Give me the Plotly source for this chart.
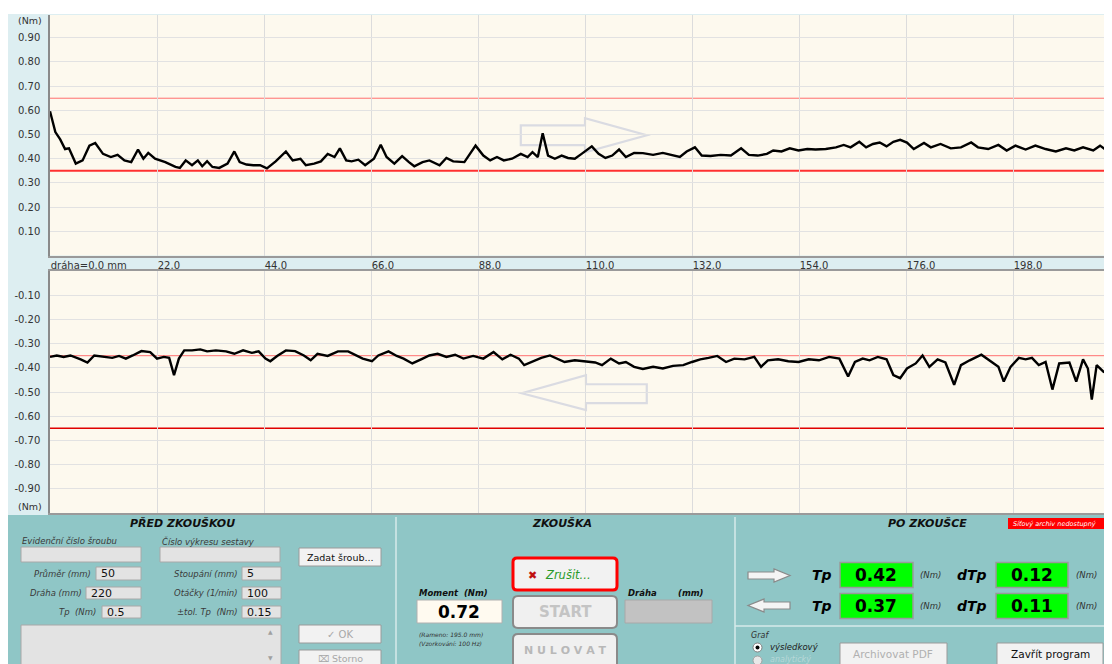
import plotly.graph_objects as go

# page has an 8 px body margin, so the figure is drawn 8 px right/down;
# the plots run past the right edge of the window like in the screenshot
OFF = 8
W, H = 1112, 656

# test parameters (shown in the panel, also give the limit lines)
prumer = 50
draha = 220
tp_nom = 0.5
stoupani = 5
otacky = 100
tol_tp = 0.15
moment = 0.72
tp_fwd, dtp_fwd = 0.42, 0.12
tp_back, dtp_back = 0.37, 0.11

# forward run (mm, Nm)
fwd_x = [
    0.0, 1.1, 2.1, 3.1, 3.9, 5.3, 6.7, 8.1, 9.3, 10.9,
    12.5, 13.9, 15.3, 16.7, 18.1, 19.2, 20.2, 21.6, 23.7, 25.8,
    26.7, 27.9, 29.2, 30.4, 31.3, 32.3, 33.4, 34.8, 36.5, 37.9,
    39.0, 40.4, 41.8, 43.2, 44.6, 46.4, 48.5, 49.9, 51.5, 52.6,
    54.3, 55.7, 57.1, 58.5, 59.6, 60.9, 62.0, 63.4, 64.8, 66.6,
    68.0, 69.2, 70.8, 72.4, 73.8, 74.9, 76.6, 78.0, 80.1, 81.5,
    82.9, 85.2, 87.5, 89.1, 90.5, 91.9, 93.3, 95.0, 96.8, 98.2,
    99.2, 100.3, 101.3, 102.4, 103.8, 105.2, 106.5, 107.9, 109.3, 111.4,
    112.8, 114.2, 115.6, 117.0, 118.4, 120.1, 121.9, 124.0, 126.0, 128.1,
    129.5, 130.9, 132.6, 134.0, 135.8, 137.9, 140.0, 142.1, 143.7, 145.5,
    147.4, 148.7, 150.4, 152.1, 153.9, 155.7, 157.4, 159.5, 161.6, 163.2,
    164.6, 166.4, 167.8, 169.2, 170.6, 172.0, 173.4, 174.8, 176.2, 177.6,
    179.7, 181.1, 183.1, 185.2, 187.3, 189.4, 190.8, 192.9, 195.0, 196.7,
    198.5, 200.6, 202.6, 204.7, 206.8, 208.9, 210.6, 212.4, 214.5, 215.9,
    217.0, 218.4,
]
fwd_y = [
    0.596, 0.51, 0.48, 0.44, 0.443, 0.38, 0.393, 0.454, 0.465, 0.42,
    0.407, 0.416, 0.393, 0.386, 0.438, 0.40, 0.424, 0.40, 0.386, 0.366,
    0.362, 0.393, 0.373, 0.393, 0.369, 0.39, 0.366, 0.362, 0.38, 0.43,
    0.386, 0.376, 0.373, 0.373, 0.36, 0.389, 0.43, 0.393, 0.40, 0.373,
    0.38, 0.389, 0.42, 0.407, 0.443, 0.393, 0.389, 0.396, 0.373, 0.40,
    0.458, 0.407, 0.38, 0.411, 0.386, 0.369, 0.386, 0.393, 0.373, 0.403,
    0.389, 0.386, 0.454, 0.413, 0.393, 0.407, 0.393, 0.40, 0.42, 0.407,
    0.427, 0.407, 0.505, 0.413, 0.40, 0.413, 0.403, 0.40, 0.42, 0.451,
    0.42, 0.403, 0.413, 0.438, 0.407, 0.424, 0.423, 0.416, 0.424, 0.413,
    0.407, 0.43, 0.447, 0.413, 0.411, 0.416, 0.413, 0.443, 0.416, 0.413,
    0.42, 0.434, 0.43, 0.443, 0.434, 0.44, 0.438, 0.44, 0.447, 0.457,
    0.447, 0.47, 0.447, 0.461, 0.467, 0.451, 0.47, 0.478, 0.467, 0.44,
    0.465, 0.447, 0.461, 0.443, 0.447, 0.467, 0.447, 0.44, 0.457, 0.434,
    0.454, 0.438, 0.454, 0.44, 0.43, 0.443, 0.434, 0.447, 0.434, 0.454,
    0.438, 0.434,
]

# backward run (mm, Nm)
back_x = [
    0.0, 1.4, 2.8, 4.2, 6.3, 7.7, 9.1, 11.1, 12.8, 14.2,
    15.6, 17.0, 18.8, 20.6, 22.0, 23.4, 24.5, 25.5, 26.5, 27.6,
    29.2, 30.9, 32.3, 34.1, 36.2, 37.9, 39.7, 41.5, 42.9, 44.3,
    45.3, 46.7, 48.5, 50.4, 52.2, 53.6, 55.0, 57.1, 59.2, 61.3,
    63.0, 64.3, 66.2, 67.5, 69.6, 71.3, 72.7, 74.5, 76.3, 78.0,
    79.7, 81.5, 83.3, 85.0, 87.0, 89.1, 91.2, 93.0, 94.7, 96.4,
    97.5, 99.2, 101.0, 102.8, 104.5, 105.8, 107.9, 110.0, 112.1, 113.5,
    115.3, 117.0, 118.4, 120.1, 121.9, 124.0, 126.0, 128.1, 130.2, 132.0,
    133.7, 135.4, 137.2, 139.0, 140.7, 142.8, 144.8, 146.2, 147.6, 149.7,
    151.8, 153.9, 156.0, 158.1, 160.2, 162.3, 164.1, 165.5, 167.1, 168.5,
    170.2, 172.0, 173.4, 174.8, 176.2, 178.0, 179.4, 180.8, 182.5, 184.1,
    185.9, 187.3, 189.1, 191.5, 193.6, 195.0, 196.1, 197.5, 199.2, 200.6,
    201.9, 203.3, 204.7, 206.1, 207.5, 209.6, 211.0, 212.4, 213.4, 214.2,
    215.2, 216.6, 218.4,
]
back_y = [
    -0.355, -0.349, -0.355, -0.349, -0.365, -0.378, -0.349, -0.355, -0.359, -0.351,
    -0.362, -0.349, -0.331, -0.335, -0.362, -0.355, -0.359, -0.43, -0.362, -0.328,
    -0.328, -0.324, -0.332, -0.328, -0.332, -0.342, -0.328, -0.338, -0.332, -0.362,
    -0.373, -0.351, -0.328, -0.331, -0.349, -0.369, -0.342, -0.351, -0.332, -0.332,
    -0.351, -0.362, -0.373, -0.349, -0.332, -0.351, -0.362, -0.382, -0.365, -0.349,
    -0.342, -0.355, -0.346, -0.362, -0.351, -0.362, -0.335, -0.365, -0.346, -0.362,
    -0.389, -0.376, -0.359, -0.349, -0.365, -0.376, -0.369, -0.373, -0.378, -0.389,
    -0.362, -0.382, -0.376, -0.396, -0.405, -0.396, -0.403, -0.392, -0.389, -0.376,
    -0.365, -0.359, -0.351, -0.376, -0.362, -0.365, -0.355, -0.396, -0.369, -0.365,
    -0.373, -0.376, -0.365, -0.369, -0.355, -0.362, -0.436, -0.376, -0.362, -0.369,
    -0.355, -0.365, -0.43, -0.443, -0.403, -0.382, -0.349, -0.396, -0.365, -0.378,
    -0.47, -0.389, -0.369, -0.346, -0.376, -0.396, -0.457, -0.396, -0.359, -0.365,
    -0.359, -0.389, -0.376, -0.49, -0.382, -0.378, -0.457, -0.365, -0.403, -0.531,
    -0.389, -0.416, -0.43,
]

x_ticks = [0, 22, 44, 66, 88, 110, 132, 154, 176, 198]
x_ticktext = ["dráha=0.0 mm"] + [f"{v:.1f}" for v in x_ticks[1:]]
y_top_ticks = [0.1, 0.2, 0.3, 0.4, 0.5, 0.6, 0.7, 0.8, 0.9]
y_bot_ticks = [-v for v in y_top_ticks]

TEAL = "#8fc6c6"
BAND = "#ddeef1"
CREAM = "#fdf9ee"
FONT = "DejaVu Sans"


# positions below are in screenshot pixels; helpers convert to paper units
def px(x):
    return (x - OFF) / W


def py(y):
    return 1 - (y - OFF) / H


def P(x, y):
    return f"{px(x):.5f},{py(y):.5f}"


shapes = []
annots = []


def rect(x0, y0, x1, y1, fill, line="rgba(0,0,0,0)", lw=1, layer="above"):
    shapes.append(dict(type="rect", xref="paper", yref="paper",
                       x0=px(x0), x1=px(x1), y0=py(y1), y1=py(y0),
                       fillcolor=fill, line=dict(color=line, width=lw), layer=layer))


def rrect(x0, y0, x1, y1, r, fill, line, lw=1):
    path = (f"M{P(x0 + r, y0)} L{P(x1 - r, y0)} Q{P(x1, y0)} {P(x1, y0 + r)} "
            f"L{P(x1, y1 - r)} Q{P(x1, y1)} {P(x1 - r, y1)} L{P(x0 + r, y1)} "
            f"Q{P(x0, y1)} {P(x0, y1 - r)} L{P(x0, y0 + r)} Q{P(x0, y0)} {P(x0 + r, y0)} Z")
    shapes.append(dict(type="path", xref="paper", yref="paper", path=path,
                       fillcolor=fill, line=dict(color=line, width=lw)))


def hline(x0, x1, y, color, lw=1):
    shapes.append(dict(type="line", xref="paper", yref="paper",
                       x0=px(x0), x1=px(x1), y0=py(y), y1=py(y),
                       line=dict(color=color, width=lw)))


def vline(x, y0, y1, color, lw=1):
    shapes.append(dict(type="line", xref="paper", yref="paper",
                       x0=px(x), x1=px(x), y0=py(y0), y1=py(y1),
                       line=dict(color=color, width=lw)))


def text(x, y, s, size=9, color="#202020", anchor="left", bold=False, italic=False):
    annots.append(dict(xref="paper", yref="paper", x=px(x), y=py(y), text=s,
                       showarrow=False, xanchor=anchor, yanchor="middle",
                       font=dict(family=FONT, size=size, color=color,
                                 weight="bold" if bold else "normal",
                                 style="italic" if italic else "normal")))


def field(x0, y0, x1, y1, value="", fill="#e3e3e3", size=11):
    rect(x0, y0, x1, y1, fill, "#a8a8a8", 1)
    if value:
        text(x0 + 3, (y0 + y1) / 2, value, size=size, color="#101010")


def button(x0, y0, x1, y1, label, color="#101010", size=9.5):
    rect(x0, y0, x1, y1, "#f2f2f2", "#9a9a9a", 1)
    text((x0 + x1) / 2, (y0 + y1) / 2, label, size=size, color=color, anchor="center")


# backgrounds outside the plot areas
rect(OFF, OFF, 1120, 14, "#ffffff", layer="below")
rect(OFF, 515, 1120, 664, TEAL, layer="below")

fig = go.Figure()
fig.add_trace(go.Scatter(x=fwd_x, y=fwd_y, mode="lines", xaxis="x", yaxis="y",
                         line=dict(color="#000000", width=2.4), showlegend=False))
fig.add_trace(go.Scatter(x=back_x, y=back_y, mode="lines", xaxis="x2", yaxis="y2",
                         line=dict(color="#000000", width=2.4), showlegend=False))

# tolerance limits
lo, hi = tp_nom - tol_tp, tp_nom + tol_tp
for val, ref, col, lw in [(hi, "y", "#ff7070", 1), (lo, "y", "#ff3030", 2),
                          (-lo, "y2", "#ff7070", 1), (-hi, "y2", "#e00000", 1.6)]:
    shapes.append(dict(type="line", xref="x domain" if ref == "y" else "x2 domain",
                       yref=ref, x0=0, x1=1, y0=val, y1=val, layer="below",
                       line=dict(color=col, width=lw)))

# direction arrows inside the plots
shapes.append(dict(type="path", xref="x", yref="y", layer="below",
                   path="M96.8,0.538 L110.0,0.538 L110.0,0.567 L122.7,0.497 L110.0,0.427 L110.0,0.456 L96.8,0.456 Z",
                   line=dict(color="#dadbe2", width=2.2)))
shapes.append(dict(type="path", xref="x2", yref="y2", layer="below",
                   path="M122.7,-0.468 L110.2,-0.468 L110.2,-0.431 L97.0,-0.505 L110.2,-0.575 L110.2,-0.546 L122.7,-0.546 Z",
                   line=dict(color="#dadbe2", width=2.2)))

# unit labels on the y axes
text(44, 21, "(Nm)", size=9.5, color="#333", anchor="right")
text(44, 507, "(Nm)", size=9.5, color="#333", anchor="right")

# ---- panel: separators
vline(396, 517, 664, "#d6eaea", 1.5)
vline(735, 517, 664, "#d6eaea", 1.5)
hline(735, 1120, 626, "#d6eaea", 1.5)

# ---- PŘED ZKOUŠKOU
text(182, 523, "PŘED ZKOUŠKOU", size=11, bold=True, italic=True, anchor="center", color="#101010")
text(20, 541, "Evidenční číslo šroubu", size=8.5, italic=True, color="#3a3a3a")
text(160, 541, "Číslo výkresu sestavy", size=8.5, italic=True, color="#3a3a3a")
field(21, 547, 141, 562)
field(160, 547, 280, 562)
button(299, 548, 381, 566, "Zadat šroub...", size=9.5)
text(93, 574, "Průměr (mm)", size=8.5, italic=True, anchor="right", color="#3a3a3a")
field(96, 567, 141, 580, str(prumer))
text(240, 574, "Stoupání (mm)", size=8.5, italic=True, anchor="right", color="#3a3a3a")
field(242, 567, 281, 580, str(stoupani))
text(84, 593, "Dráha (mm)", size=8.5, italic=True, anchor="right", color="#3a3a3a")
field(86, 587, 141, 599, str(draha))
text(240, 593, "Otáčky (1/min)", size=8.5, italic=True, anchor="right", color="#3a3a3a")
field(242, 587, 281, 599, str(otacky))
text(98, 612, "Tp  (Nm)", size=8.5, italic=True, anchor="right", color="#3a3a3a")
field(102, 606, 141, 618, str(tp_nom))
text(240, 612, "±tol. Tp  (Nm)", size=8.5, italic=True, anchor="right", color="#3a3a3a")
field(242, 606, 281, 618, str(tol_tp))
field(21, 625, 281, 666)
text(270, 631, "▲", size=6, color="#a0a0a0", anchor="center")
text(270, 657, "▼", size=6, color="#a0a0a0", anchor="center")
button(299, 625, 381, 643, "✓ OK", color="#a8a8a8", size=10)
rect(299, 650, 381, 668, "#f2f2f2", "#9a9a9a", 1)
text(340, 658, "⌧ Storno", size=9.5, color="#a8a8a8", anchor="center")

# ---- ZKOUŠKA
text(562, 523, "ZKOUŠKA", size=11, bold=True, italic=True, anchor="center", color="#101010")
rrect(513, 558, 617, 590, 4, "#f2f2f2", "#ff0000", 3)
text(532, 575, "✖", size=11, color="#c01010", anchor="center")
text(543, 575, "Zrušit...", size=11.5, italic=True, color="#2a9a2a")
rrect(513, 596, 617, 628, 5, "#f0f0f0", "#8a8a8a", 2)
text(565, 612, "START", size=15, bold=True, color="#c4c4c4", anchor="center")
rrect(513, 634, 617, 672, 5, "#f0f0f0", "#8a8a8a", 2)
text(565, 650, "N U L O V A T", size=11, bold=True, color="#b8b8b8", anchor="center")
text(417, 593, "Moment  (Nm)", size=8.5, bold=True, italic=True, color="#101010")
rect(417, 600, 502, 623, "#fffaf0", "#b0b0b0", 1)
text(459, 612, f"{moment:.2f}", size=17, bold=True, color="#000", anchor="center")
text(417, 634, "(Rameno: 195.0 mm)", size=6, italic=True, color="#303030")
text(417, 643, "(Vzorkování: 100 Hz)", size=6, italic=True, color="#303030")
text(626, 593, "Dráha", size=8.5, bold=True, italic=True, color="#101010")
text(706, 593, "(mm)", size=8.5, bold=True, italic=True, color="#101010", anchor="right")
rect(625, 600, 712, 623, "#c2c2c2", "#a8a8a8", 1)

# ---- PO ZKOUŠCE
text(927, 523, "PO ZKOUŠCE", size=11, bold=True, italic=True, anchor="center", color="#101010")
rect(1008, 518, 1120, 529, "#ff0000")
text(1011, 523.5, "Síťový archiv nedostupný", size=6.5, italic=True, color="#ffffff")

shapes.append(dict(type="path", xref="paper", yref="paper",
                   path=f"M{P(748, 572)} L{P(774, 572)} L{P(774, 569)} L{P(790, 575.5)} "
                        f"L{P(774, 582)} L{P(774, 579)} L{P(748, 579)} Z",
                   fillcolor="#f4f4f4", line=dict(color="#8a8a8a", width=1.2)))
shapes.append(dict(type="path", xref="paper", yref="paper",
                   path=f"M{P(790, 602)} L{P(764, 602)} L{P(764, 599)} L{P(748, 605.5)} "
                        f"L{P(764, 612)} L{P(764, 609)} L{P(790, 609)} Z",
                   fillcolor="#f4f4f4", line=dict(color="#8a8a8a", width=1.2)))

for yc, tp, dtp in [(575, tp_fwd, dtp_fwd), (606, tp_back, dtp_back)]:
    text(822, yc, "Tp", size=14, bold=True, italic=True, anchor="center", color="#000")
    rect(840, yc - 12.5, 913, yc + 12.5, "#00ff00", "#9a9a9a", 1.5)
    text(876, yc, f"{tp:.2f}", size=17, bold=True, anchor="center", color="#000")
    text(918, yc, "(Nm)", size=8.5, italic=True, color="#303030")
    text(972, yc, "dTp", size=14, bold=True, italic=True, anchor="center", color="#000")
    rect(996, yc - 12.5, 1068, yc + 12.5, "#00ff00", "#9a9a9a", 1.5)
    text(1032, yc, f"{dtp:.2f}", size=17, bold=True, anchor="center", color="#000")
    text(1074, yc, "(Nm)", size=8.5, italic=True, color="#303030")

text(749, 635, "Graf", size=8, italic=True, color="#303030")
shapes.append(dict(type="circle", xref="paper", yref="paper",
                   x0=px(753), x1=px(762), y0=py(652), y1=py(643),
                   fillcolor="#ffffff", line=dict(color="#808080", width=1)))
shapes.append(dict(type="circle", xref="paper", yref="paper",
                   x0=px(755.5), x1=px(759.5), y0=py(649.5), y1=py(645.5),
                   fillcolor="#000000", line=dict(width=0)))
text(768, 647, "výsledkový", size=8.5, italic=True, color="#202020")
shapes.append(dict(type="circle", xref="paper", yref="paper",
                   x0=px(753), x1=px(762), y0=py(665), y1=py(656),
                   fillcolor="#e8e8e8", line=dict(color="#a0a0a0", width=1)))
text(768, 659, "analytický", size=8, italic=True, color="#b8d8d8")
rect(840, 643, 947, 668, "#f2f2f2", "#9a9a9a", 1)
text(893, 654, "Archivovat PDF", size=10.5, color="#b0b0b0", anchor="center")
rect(997, 643, 1103, 668, "#f2f2f2", "#9a9a9a", 1)
text(1050, 654, "Zavřít program", size=10.5, color="#101010", anchor="center")

axis_font = dict(family=FONT, size=10, color="#333333")
grid = "#e2e2e2"
fig.update_layout(
    width=W, height=H, autosize=False,
    margin=dict(l=0, r=0, t=0, b=0),
    paper_bgcolor=BAND, plot_bgcolor=CREAM,
    showlegend=False,
    xaxis=dict(domain=[px(50), 1], range=[0, draha], tickvals=x_ticks, ticktext=x_ticktext,
               ticklabelposition="outside right", ticks="", tickfont=axis_font,
               showgrid=True, gridcolor="#dcdcdc", showline=True, linecolor="#9a9a9a",
               linewidth=1.5, zeroline=False, anchor="y"),
    yaxis=dict(domain=[py(255.5), py(15)], range=[0, 0.994], tickvals=y_top_ticks,
               ticktext=[f"{v:.2f}" for v in y_top_ticks], tickfont=axis_font,
               ticks="outside", ticklen=6, tickcolor="rgba(0,0,0,0)",
               showgrid=True, gridcolor=grid, showline=True, linecolor="#8a8a8a",
               linewidth=1.5, zeroline=False, anchor="x"),
    xaxis2=dict(domain=[px(50), 1], range=[0, draha], tickvals=x_ticks, showticklabels=False,
                ticks="", showgrid=True, gridcolor="#dcdcdc", showline=True, mirror=True,
                linecolor="#9a9a9a", linewidth=1.5, zeroline=False, anchor="y2"),
    yaxis2=dict(domain=[py(513), py(271)], range=[-1.0, 0], tickvals=y_bot_ticks,
                ticktext=[f"{v:.2f}" for v in y_bot_ticks], tickfont=axis_font,
                ticks="outside", ticklen=6, tickcolor="rgba(0,0,0,0)",
                showgrid=True, gridcolor=grid, showline=True, linecolor="#8a8a8a",
                linewidth=1.5, zeroline=False, anchor="x2"),
    shapes=shapes, annotations=annots,
)

fig.write_html("out.html")
